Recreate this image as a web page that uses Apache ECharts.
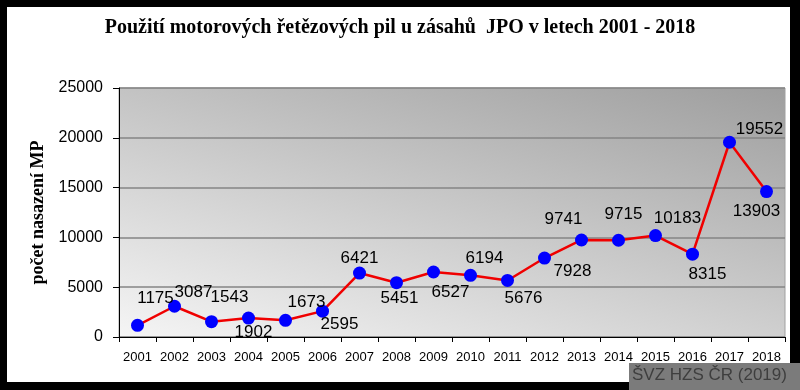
<!DOCTYPE html>
<html>
<head>
<meta charset="utf-8">
<script src="https://cdn.jsdelivr.net/npm/echarts@6/dist/echarts.min.js"></script>
<style>
html,body{margin:0;padding:0;background:#fff;}
#c{width:800px;height:390px;}
</style>
</head>
<body>
<div id="c"></div>
<script>
// ---- data ----
var titleText = 'Použití motorových řetězových pil u zásahů  JPO v letech 2001 - 2018';
var yAxisTitle = 'počet nasazení MP';
var watermark = 'ŠVZ HZS ČR (2019)';
var years = ['2001','2002','2003','2004','2005','2006','2007','2008','2009','2010','2011','2012','2013','2014','2015','2016','2017','2018'];
var values = [1175, 3087, 1543, 1902, 1673, 2595, 6421, 5451, 6527, 6194, 5676, 7928, 9741, 9715, 10183, 8315, 19552, 14600];
var valueLabels = ['1175','3087','1543','1902','1673','2595','6421','5451','6527','6194','5676','7928','9741','9715','10183','8315','19552','13903'];
var yTicks = [0, 5000, 10000, 15000, 20000, 25000];

// ---- label placement (style) ----
var labelOffsets = [[18,-27],[19,-14],[18,-24],[5,14],[21,-18],[17,13],[0,-15],[3,16],[17,20],[14,-17],[16,18],[28,13],[-18,-21],[5,-26],[22,-17],[15,20],[30,-13],[-10,20]];

var chart = echarts.init(document.getElementById('c'), null, {renderer:'canvas'});

var seriesData = values.map(function(v, i){
  return {
    value: v,
    label: { offset: labelOffsets[i], formatter: valueLabels[i] }
  };
});

var option = {
  backgroundColor: '#ffffff',
  animation: false,
  title: {
    text: titleText,
    left: 'center',
    top: 13,
    textStyle: { fontFamily: 'Liberation Serif', fontWeight: 'bold', fontSize: 20, color: '#000' }
  },
  grid: {
    left: 119, right: 15, top: 88, bottom: 53,
    show: true,
    borderColor: '#a0a0a0',
    borderWidth: 1,
    backgroundColor: new echarts.graphic.LinearGradient(119, 337, 233, -67, [
      { offset: 0, color: '#f5f5f5' },
      { offset: 1, color: '#9e9e9e' }
    ], true)
  },
  xAxis: {
    type: 'category',
    data: years,
    boundaryGap: true,
    axisLine: { lineStyle: { color: '#000', width: 1 } },
    axisTick: { show: true, inside: false, length: 5, alignWithLabel: false, lineStyle: { color: '#000' } },
    axisLabel: { color: '#000', fontFamily: 'Liberation Sans', fontSize: 13, margin: 14, interval: 0 },
    splitLine: { show: false }
  },
  yAxis: {
    type: 'value',
    min: yTicks[0],
    max: yTicks[yTicks.length - 1],
    interval: yTicks[1] - yTicks[0],
    name: yAxisTitle,
    nameLocation: 'middle',
    nameGap: 69,
    nameTextStyle: { fontFamily: 'Liberation Serif', fontWeight: 'bold', fontSize: 18, color: '#000' },
    axisLine: { show: true, lineStyle: { color: '#000', width: 1 } },
    axisTick: { show: true, inside: false, length: 6, lineStyle: { color: '#000' } },
    axisLabel: { color: '#000', fontFamily: 'Liberation Sans', fontSize: 16, margin: 16,
      formatter: function(v){ return String(v); } },
    splitLine: { show: true, lineStyle: { color: '#858585', width: 1.5 } }
  },
  series: [{
    type: 'line',
    data: seriesData,
    symbol: 'circle',
    symbolSize: 13,
    itemStyle: { color: '#0000ff' },
    lineStyle: { color: '#f00000', width: 2.5 },
    label: {
      show: true,
      position: 'inside',
      align: 'center',
      verticalAlign: 'middle',
      color: '#000',
      fontFamily: 'Liberation Sans',
      fontSize: 17
    },
    z: 3
  }],
  graphic: [
    { type: 'rect', z: 100, shape: { x: 0, y: 0, width: 800, height: 7 }, style: { fill: '#000' } },
    { type: 'rect', z: 100, shape: { x: 0, y: 0, width: 7, height: 390 }, style: { fill: '#000' } },
    { type: 'rect', z: 100, shape: { x: 790, y: 0, width: 10, height: 390 }, style: { fill: '#000' } },
    { type: 'rect', z: 100, shape: { x: 0, y: 382, width: 800, height: 8 }, style: { fill: '#000' } },
    { type: 'rect', z: 101, shape: { x: 629, y: 363, width: 171, height: 27 }, style: { fill: '#7b7b7b' } },
    { type: 'text', z: 102, left: 632, top: 367, style: { text: watermark, fill: '#3e3e3e', font: '17px "Liberation Sans"' } }
  ]
};
chart.setOption(option);
</script>
</body>
</html>
